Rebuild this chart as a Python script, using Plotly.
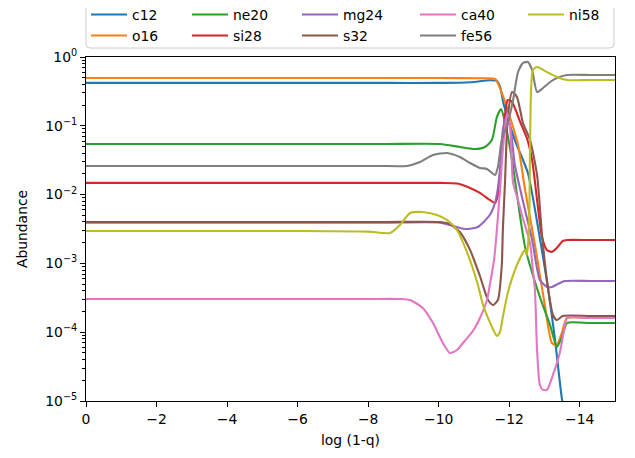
import plotly.graph_objects as go

# ---------------- data ----------------
species = ["c12", "o16", "ne20", "si28", "mg24", "s32", "ca40", "fe56", "ni58"]
colors = ["#1f77b4", "#ff7f0e", "#2ca02c", "#d62728", "#9467bd",
          "#8c564b", "#e377c2", "#7f7f7f", "#bcbd22"]

c12_x = [0, -3.0, -6.0, -8.5, -10.0, -10.9, -11.45, -11.65, -11.74, -11.85, -12.16, -12.53, -12.82, -13.10, -13.30, -13.50, -13.72]
c12_y = [0.42, 0.42, 0.42, 0.42, 0.42, 0.43, 0.46, 0.45, 0.37, 0.20, 0.062, 0.0206, 0.0033, 0.00044, 7.7e-5, 1.03e-5, 2.7e-6]

o16_x = [0, -3.0, -6.0, -8.5, -10.04, -11.17, -11.60, -11.79, -12.02, -12.25, -12.45, -12.73, -13.01, -13.21, -13.35, -13.50, -13.64, -14.3, -15]
o16_y = [0.495, 0.495, 0.495, 0.495, 0.495, 0.49, 0.479, 0.30, 0.134, 0.0526, 0.0117, 0.00185, 0.000248, 6.97e-5, 6.52e-5, 1.0e-4, 0.000161, 0.000161, 0.000161]

ne20_x = [0, -3.0, -6.0, -8.5, -10.04, -10.60, -11.03, -11.31, -11.51, -11.65, -11.77, -11.88, -12.08, -12.45, -12.87, -13.16, -13.35, -13.50, -13.64, -14.3, -15]
ne20_y = [0.0544, 0.0544, 0.0544, 0.0544, 0.0544, 0.0492, 0.0460, 0.0492, 0.0622, 0.134, 0.175, 0.114, 0.0318, 0.00173, 0.000325, 0.000127, 6.1e-5, 8.5e-5, 0.000136, 0.000136, 0.000136]

si28_x = [0, -3.0, -6.0, -8.5, -10.04, -10.52, -10.89, -11.17, -11.45, -11.60, -11.68, -11.79, -11.88, -11.96, -12.08, -12.31, -12.50, -12.65, -12.79, -12.93, -13.07, -13.21, -13.35, -13.52, -13.64, -14.3, -15]
si28_y = [0.0148, 0.0148, 0.0148, 0.0148, 0.0148, 0.0145, 0.0125, 0.0106, 0.00835, 0.00755, 0.00986, 0.0445, 0.1435, 0.237, 0.222, 0.114, 0.0665, 0.0318, 0.00835, 0.00242, 0.00157, 0.00147, 0.00167, 0.00212, 0.00219, 0.00219, 0.00219]

mg24_x = [0, -3.0, -6.0, -8.5, -10.04, -10.75, -11.11, -11.45, -11.62, -11.74, -11.82, -11.91, -12.02, -12.16, -12.45, -12.65, -12.87, -13.07, -13.21, -13.38, -13.58, -14.3, -15]
mg24_y = [0.0039, 0.0039, 0.0039, 0.0039, 0.0039, 0.00316, 0.00338, 0.00505, 0.00835, 0.0228, 0.0869, 0.13, 0.103, 0.0269, 0.00597, 0.00219, 0.000574, 0.000454, 0.000454, 0.000502, 0.000555, 0.000555, 0.000555]

s32_x = [0, -3.0, -6.0, -8.5, -10.04, -10.32, -10.60, -10.89, -11.17, -11.40, -11.54, -11.68, -11.79, -11.82, -11.88, -11.96, -12.08, -12.22, -12.39, -12.59, -12.79, -12.93, -13.10, -13.24, -13.35, -13.52, -14.3, -15]
s32_y = [0.0040, 0.0040, 0.0040, 0.0040, 0.0040, 0.00374, 0.00286, 0.00157, 0.000656, 0.000294, 0.000248, 0.000294, 0.000948, 0.00306, 0.0148, 0.134, 0.31, 0.262, 0.11, 0.0622, 0.0193, 0.00259, 0.000439, 0.000178, 0.00015, 0.000172, 0.000172, 0.000172]

ca40_x = [0, -3.0, -6.0, -8.0, -8.90, -9.19, -9.55, -9.84, -10.12, -10.32, -10.52, -10.69, -10.97, -11.17, -11.37, -11.45, -11.57, -11.65, -11.74, -11.82, -11.94, -12.02, -12.11, -12.25, -12.36, -12.59, -12.67, -12.73, -12.79, -12.87, -12.96, -13.07, -13.24, -13.44, -13.58, -13.64, -14.3, -15]
ca40_y = [0.000304, 0.000304, 0.000304, 0.000304, 0.000304, 0.000294, 0.000225, 0.000136, 6.97e-5, 4.99e-5, 5.51e-5, 6.97e-5, 0.000104, 0.000161, 0.000294, 0.000485, 0.00112, 0.00306, 0.0117, 0.0445, 0.153, 0.103, 0.0148, 0.00835, 0.00505, 0.00198, 0.000802, 0.00041, 5.51e-5, 1.71e-5, 1.45e-5, 1.45e-5, 2.39e-5, 5.16e-5, 0.000127, 0.000161, 0.000161, 0.000161]

fe56_x = [0, -3.0, -6.0, -8.3, -9.10, -9.47, -9.84, -10.24, -10.60, -10.89, -11.17, -11.37, -11.60, -11.68, -11.79, -11.96, -12.11, -12.25, -12.39, -12.53, -12.65, -12.79, -12.96, -13.16, -13.35, -13.64, -14.3, -15]
fe56_y = [0.0261, 0.0261, 0.0261, 0.0261, 0.0261, 0.0298, 0.0377, 0.0402, 0.0352, 0.0288, 0.0244, 0.0236, 0.0193, 0.0252, 0.0622, 0.11, 0.237, 0.605, 0.818, 0.846, 0.647, 0.31, 0.354, 0.433, 0.495, 0.548, 0.548, 0.548]

ni58_x = [0, -3.0, -6.0, -8.0, -8.62, -8.90, -9.19, -9.53, -9.95, -10.24, -10.52, -10.80, -11.09, -11.26, -11.45, -11.65, -11.74, -11.82, -11.96, -12.22, -12.45, -12.50, -12.56, -12.59, -12.62, -12.67, -12.79, -13.07, -13.35, -13.64, -14.3, -15]
ni58_y = [0.00296, 0.00296, 0.00296, 0.00290, 0.00277, 0.00361, 0.0054, 0.00558, 0.00505, 0.00427, 0.00306, 0.00147, 0.000537, 0.000248, 0.000141, 8.81e-5, 0.000101, 0.000166, 0.000372, 0.000948, 0.00157, 0.00132, 0.00306, 0.0445, 0.331, 0.647, 0.716, 0.605, 0.512, 0.463, 0.463, 0.463]

series_x = [c12_x, o16_x, ne20_x, si28_x, mg24_x, s32_x, ca40_x, fe56_x, ni58_x]
series_y = [c12_y, o16_y, ne20_y, si28_y, mg24_y, s32_y, ca40_y, fe56_y, ni58_y]

x_ticks = [0, -2, -4, -6, -8, -10, -12, -14]
x_tick_labels = ["0", "\u22122", "\u22124", "\u22126", "\u22128", "\u221210", "\u221212", "\u221214"]
y_ticks = [1e-5, 1e-4, 1e-3, 1e-2, 1e-1, 1e0]
y_tick_labels = ["10<sup>\u22125</sup>", "10<sup>\u22124</sup>", "10<sup>\u22123</sup>",
                 "10<sup>\u22122</sup>", "10<sup>\u22121</sup>", "10<sup>0</sup>"]
y_minor = [m * 10.0 ** k for k in range(-5, 0) for m in range(2, 10)]

# ---------------- figure ----------------
OFF = 8  # page offset of the plot div (browser body margin)
W, H = 635 - OFF, 458 - OFF
L, R, T, B = 86 - OFF, 20, 57 - OFF, 57
pw, ph = W - L - R, H - T - B

def px2paper_x(px):  # page pixel -> paper
    return (px - OFF - L) / pw

def py2paper_y(py):
    return (H - B - (py - OFF)) / ph

FONT = "DejaVu Sans"
FS = 13.9

fig = go.Figure()
for i, (name, col, xs, ys) in enumerate(zip(species, colors, series_x, series_y)):
    fig.add_trace(go.Scatter(
        x=xs, y=ys, mode="lines", name=name,
        line=dict(color=col, width=2.1, shape="spline", smoothing=0.6),
        legend="legend" if i == 0 else f"legend{i + 1}",
        showlegend=True,
    ))

# column-major legend like matplotlib: 5 columns, 2 rows
col_px = [86, 187, 297, 415, 523]
row_center_px = [16, 37]
legends = {}
for i in range(len(species)):
    key = "legend" if i == 0 else f"legend{i + 1}"
    c, r = i // 2, i % 2
    legends[key] = dict(
        x=px2paper_x(col_px[c]), xanchor="left",
        y=py2paper_y(row_center_px[r] - 17), yanchor="top",
        orientation="v", bgcolor="rgba(0,0,0,0)", borderwidth=0,
        font=dict(family=FONT, size=FS, color="black"),
        itemwidth=36,
    )

# legend frame (top is cut by the page edge)
fx0, fx1 = px2paper_x(86), px2paper_x(614)
fy0, fy1 = py2paper_y(48), py2paper_y(-20)
rx, ry = 4 / pw, 4 / ph
frame_path = (f"M {fx0},{fy1} L {fx0},{fy0 + ry} Q {fx0},{fy0} {fx0 + rx},{fy0} "
              f"L {fx1 - rx},{fy0} Q {fx1},{fy0} {fx1},{fy0 + ry} L {fx1},{fy1} Z")

fig.update_layout(
    width=W, height=H,
    margin=dict(l=L, r=R, t=T, b=B, autoexpand=False),
    paper_bgcolor="white", plot_bgcolor="white",
    font=dict(family=FONT, size=FS, color="black"),
    showlegend=True,
    shapes=[dict(type="path", path=frame_path, xref="paper", yref="paper",
                 line=dict(color="#cccccc", width=1), fillcolor="rgba(255,255,255,0.8)",
                 layer="below")],
    **legends,
)

fig.update_xaxes(
    range=[0, -15], autorange=False,
    tickmode="array", tickvals=x_ticks, ticktext=x_tick_labels,
    ticks="outside", ticklen=5, tickwidth=1, tickcolor="black",
    showline=True, linecolor="black", linewidth=1, mirror=True,
    showgrid=False, zeroline=False,
    tickfont=dict(family=FONT, size=FS, color="black"),
    title=dict(text="log (1-q)", font=dict(family=FONT, size=FS, color="black"), standoff=9),
)
fig.update_yaxes(
    type="log", range=[-5, 0], autorange=False,
    tickmode="array", tickvals=y_ticks, ticktext=y_tick_labels,
    ticks="outside", ticklen=5, tickwidth=1, tickcolor="black",
    minor=dict(tickmode="array", tickvals=y_minor, ticks="outside", ticklen=3,
               tickwidth=0.8, tickcolor="black", showgrid=False),
    showline=True, linecolor="black", linewidth=1, mirror=True,
    showgrid=False, zeroline=False,
    tickfont=dict(family=FONT, size=FS, color="black"),
    title=dict(text="Abundance", font=dict(family=FONT, size=FS, color="black"), standoff=14),
)

fig.write_html("out.html")
